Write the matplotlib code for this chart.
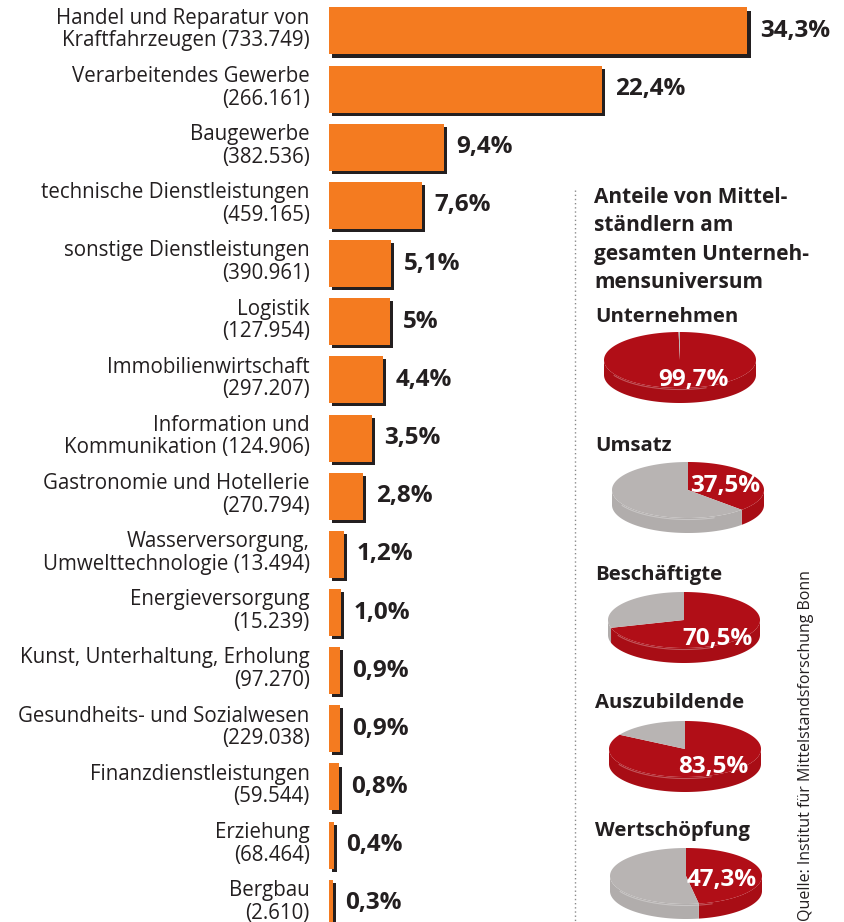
import matplotlib
matplotlib.use("Agg")
import matplotlib.pyplot as plt
import matplotlib.patheffects as pe
from matplotlib.patches import Polygon
import numpy as np

plt.rcParams['font.family'] = ['Open Sans', 'DejaVu Sans']

# ---------------- data ----------------
categories = [
    "Handel und Reparatur von\nKraftfahrzeugen (733.749)",
    "Verarbeitendes Gewerbe\n(266.161)",
    "Baugewerbe\n(382.536)",
    "technische Dienstleistungen\n(459.165)",
    "sonstige Dienstleistungen\n(390.961)",
    "Logistik\n(127.954)",
    "Immobilienwirtschaft\n(297.207)",
    "Information und\nKommunikation (124.906)",
    "Gastronomie und Hotellerie\n(270.794)",
    "Wasserversorgung,\nUmwelttechnologie (13.494)",
    "Energieversorgung\n(15.239)",
    "Kunst, Unterhaltung, Erholung\n(97.270)",
    "Gesundheits- und Sozialwesen\n(229.038)",
    "Finanzdienstleistungen\n(59.544)",
    "Erziehung\n(68.464)",
    "Bergbau\n(2.610)",
]
values = [34.3, 22.4, 9.4, 7.6, 5.1, 5.0, 4.4, 3.5, 2.8, 1.2, 1.0, 0.9, 0.9, 0.8, 0.4, 0.3]
value_labels = ["34,3%", "22,4%", "9,4%", "7,6%", "5,1%", "5%", "4,4%", "3,5%", "2,8%",
                "1,2%", "1,0%", "0,9%", "0,9%", "0,8%", "0,4%", "0,3%"]

pie_titles = ["Unternehmen", "Umsatz", "Beschäftigte", "Auszubildende", "Wertschöpfung"]
pie_shares = [99.7, 37.5, 70.5, 83.5, 47.3]
pie_labels = ["99,7%", "37,5%", "70,5%", "83,5%", "47,3%"]

panel_title = "Anteile von Mittel-\nständlern am\ngesamten Unterneh-\nmensuniversum"
source = "Quelle: Institut für Mittelstandsforschung Bonn"

# ---------------- style ----------------
W, H = 845, 922
ORANGE = "#f47b20"
SHADOW = "#231f20"
TXT = "#231f20"
RED = "#b10e17"
RED_SIDE = "#a80d15"
GREY = "#b8b4b3"
GREY_SIDE = "#b1adac"

fig = plt.figure(figsize=(W / 100, H / 100), dpi=100)
fig.patch.set_facecolor("white")

# bar axes: pixel geometry
x0_px = 329
px_per_pct = 12.2
row_px = 58.15
y0_px = 31
ax = fig.add_axes([x0_px / W, 0, (W - x0_px) / W, 1])
ax.set_xlim(0, (W - x0_px) / px_per_pct)
ax.set_ylim((H - y0_px) / row_px, -y0_px / row_px)
ax.axis("off")
ax.patch.set_alpha(0)

ypos = np.arange(len(values))
bars = ax.barh(ypos, values, height=47 / row_px, color=ORANGE, linewidth=0)
for b in bars:
    b.set_path_effects([pe.SimplePatchShadow(offset=(2.2, -2.2), shadow_rgbFace=SHADOW, alpha=1.0),
                        pe.Normal()])
for i, (v, lab, vl) in enumerate(zip(values, categories, value_labels)):
    ax.annotate(lab, xy=(0, i), xytext=(-14, 1), textcoords="offset points",
                ha="right", va="center", fontsize=14.8, color=TXT, linespacing=1.1,
                annotation_clip=False)
    ax.annotate(vl, xy=(v, i), xytext=(9, 0), textcoords="offset points",
                ha="left", va="center", fontsize=17.5, fontweight="bold", color=TXT,
                annotation_clip=False)

# overlay axes in pixel coordinates
ov = fig.add_axes([0, 0, 1, 1])
ov.set_xlim(0, W)
ov.set_ylim(H, 0)
ov.axis("off")
ov.patch.set_alpha(0)

ov.plot([575, 575], [190, H], color="#8a8a8a", linestyle=(0, (1, 2)), linewidth=1)

ov.text(594, 187, panel_title, ha="left", va="top", fontsize=15, fontweight="bold",
        color=TXT, linespacing=1.46)


def pie3d(axis, cx, cy, share, a=76.0, b=28.0, d=15.0):
    split = 90 - 360 * share / 100.0
    wedges = [(90, split, RED, RED_SIDE), (split, -270, GREY, GREY_SIDE)]
    # side walls (front half: angles -180..0)
    for t0, t1, col, scol in wedges:
        lo, hi = max(t1, -180), min(t0, 0)
        if hi > lo:
            th = np.radians(np.linspace(lo, hi, 120))
            xs = cx + a * np.cos(th)
            ys = cy - b * np.sin(th)
            pts = np.column_stack([np.concatenate([xs, xs[::-1]]),
                                   np.concatenate([ys, ys[::-1] + d])])
            axis.add_patch(Polygon(pts, closed=True, facecolor=scol, edgecolor="none"))
    # top
    for t0, t1, col, scol in wedges:
        n = max(int(abs(t0 - t1)) * 2, 4)
        th = np.radians(np.linspace(t0, t1, n))
        xs = cx + a * np.cos(th)
        ys = cy - b * np.sin(th)
        pts = np.column_stack([np.concatenate([[cx], xs]), np.concatenate([[cy], ys])])
        axis.add_patch(Polygon(pts, closed=True, facecolor=col, edgecolor="none"))
    # subtle highlight along the front rim
    th = np.radians(np.linspace(-150, -70, 60))
    axis.plot(cx + a * np.cos(th), cy - b * np.sin(th) + 1.5, color="white",
              alpha=0.3, linewidth=0.8)


pie_title_y = [317, 446, 575, 703, 831]
pie_centers = [(680, 360), (688, 490), (684, 620), (685, 749), (686, 876)]
pie_label_pos = [(693, 380), (725, 486), (718, 639), (713, 767), (722, 880)]

for t, ty, s, (cx, cy), lab, (lx, ly) in zip(pie_titles, pie_title_y, pie_shares,
                                              pie_centers, pie_labels, pie_label_pos):
    ov.text(595, ty, t, ha="left", va="center", fontsize=14.7, fontweight="bold", color=TXT)
    pie3d(ov, cx, cy, s)
    ov.text(lx, ly, lab, ha="center", va="center", fontsize=17.5, fontweight="bold",
            color="white")

ov.text(806, H - 1, source, rotation=90, ha="center", va="bottom", fontsize=11.5,
        color=TXT)

fig.savefig("out.png", dpi=100, facecolor="white")
